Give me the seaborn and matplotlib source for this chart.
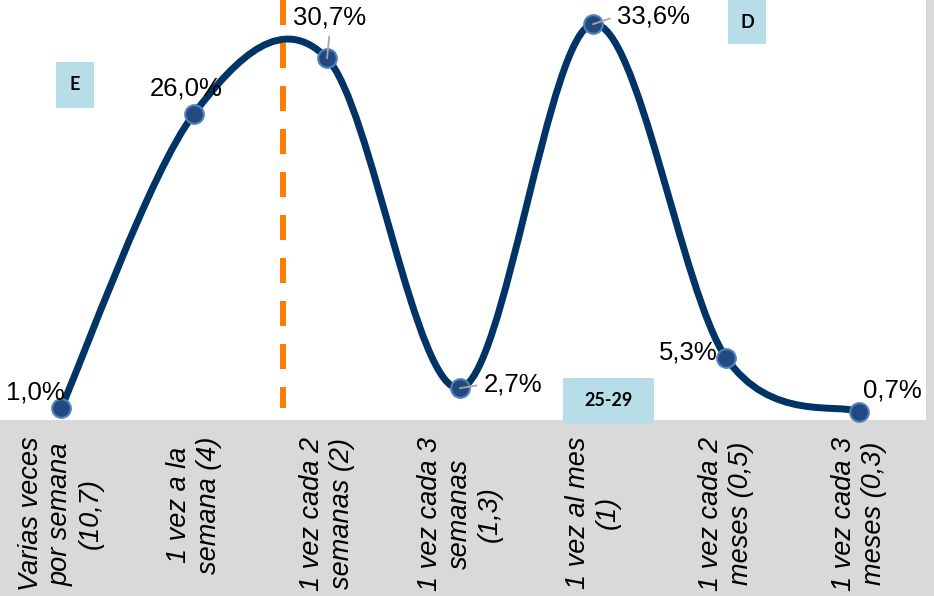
import numpy as np
import pandas as pd
import matplotlib
matplotlib.use("Agg")
import matplotlib.pyplot as plt
import seaborn as sns
from matplotlib.path import Path
from matplotlib.patches import PathPatch, Rectangle

# Frequency categories (mean per month in parentheses) and share of respondents
categories = [
    "Varias veces\npor semana\n(10,7)",
    "1 vez a la\nsemana (4)",
    "1 vez cada 2\nsemanas (2)",
    "1 vez cada 3\nsemanas\n(1,3)",
    "1 vez al mes\n(1)",
    "1 vez cada 2\nmeses (0,5)",
    "1 vez cada 3\nmeses (0,3)",
]
values = [1.0, 26.0, 30.7, 2.7, 33.6, 5.3, 0.7]
value_labels = [f"{v:.1f}%".replace(".", ",") for v in values]
reference_x = 1.67          # dashed reference marker on the category axis
group_tags = ["E", "D", "25-29"]

sns.set_theme(style="white")
plt.rcParams["font.family"] = ["Liberation Sans", "DejaVu Sans"]

W, H = 934, 596
fig = plt.figure(figsize=(W / 100, H / 100), dpi=100, facecolor="#d9d9d9")
ax = fig.add_axes([0, 1 - 420 / H, 926 / W, 420 / H])
ax.set_facecolor("white")

df = pd.DataFrame({"pos": np.arange(len(values)), "value": values})

# Smoothed line (Catmull-Rom style cubic Bezier segments through the points)
pts = df[["pos", "value"]].to_numpy(dtype=float)
padded = np.vstack([pts[0], pts, pts[-1]])
verts = [pts[0]]
codes = [Path.MOVETO]
for i in range(len(pts) - 1):
    p0, p1, p2, p3 = padded[i], padded[i + 1], padded[i + 2], padded[i + 3]
    verts += [p1 + (p2 - p0) / 6, p2 - (p3 - p1) / 6, p2]
    codes += [Path.CURVE4] * 3
ax.add_patch(PathPatch(Path(verts, codes), facecolor="none", edgecolor="#003366",
                       lw=5.0, capstyle="round", joinstyle="round", zorder=2))

sns.scatterplot(data=df, x="pos", y="value", s=180, color="#234a80",
                edgecolor="#4f81bd", linewidth=1.5, zorder=3, clip_on=False,
                legend=False, ax=ax)

ax.set_xlim(-0.459, 6.504)
ax.set_ylim(0, 35.65)

# Dashed vertical reference line
ax.plot([reference_x, reference_x], [35.65, 1.0], color="#ff7c00", lw=4.3,
        dashes=(4.2, 3.0), dash_capstyle="butt", zorder=1)

# Value labels
label_style = [
    dict(off=(4, 16), ha="right"),
    dict(off=(-8, 25), ha="center"),
    dict(off=(3, 41), ha="center", leader=(0.5, 0.0)),
    dict(off=(24, 4), ha="left", leader=(0.0, 0.5)),
    dict(off=(24, 8), ha="left", leader=(0.0, 0.5)),
    dict(off=(-8, 5), ha="right"),
    dict(off=(4, 21), ha="left"),
]
for i, (v, txt) in enumerate(zip(values, value_labels)):
    st = label_style[i]
    arrow = None
    if "leader" in st:
        arrow = dict(arrowstyle="-", color="#a6a6a6", lw=1.3,
                     shrinkA=3, shrinkB=0, relpos=st["leader"])
    ax.annotate(txt, xy=(i, v), xytext=st["off"], textcoords="offset pixels",
                ha=st["ha"], va="center", fontsize=18.5, color="black",
                arrowprops=arrow, zorder=5, annotation_clip=False)

ax.set_xticks(df["pos"])
ax.set_xticklabels(categories, rotation=90, fontstyle="italic", fontsize=19.5,
                   ha="center", va="top", multialignment="center", color="black")
ax.tick_params(axis="x", length=0, pad=12)
ax.set_yticks([])
ax.set_xlabel("")
ax.set_ylabel("")
for s in ax.spines.values():
    s.set_visible(False)

# Group tags
def add_tag(x0, y0, x1, y1, text):
    fig.add_artist(Rectangle((x0 / W, 1 - y1 / H), (x1 - x0) / W, (y1 - y0) / H,
                             transform=fig.transFigure, facecolor="#b7dde8",
                             edgecolor="none", zorder=5))
    fig.text((x0 + x1) / 2 / W, 1 - (y0 + y1) / 2 / H, text, ha="center",
             va="center", fontsize=13, fontweight="bold", family=["Lato", "DejaVu Sans"],
             color="black", zorder=6)

add_tag(56, 62, 94, 108, group_tags[0])
add_tag(728, 0, 766, 44, group_tags[1])
add_tag(563, 378, 654, 424, group_tags[2])

fig.savefig("out.png", dpi=100, facecolor=fig.get_facecolor())
